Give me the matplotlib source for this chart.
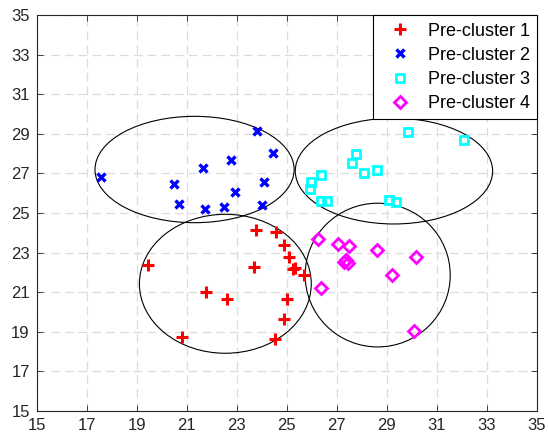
#!/usr/bin/env python3
"""Pre-cluster scatter with the four covering ellipses."""

import matplotlib

matplotlib.use("Agg")

import matplotlib.pyplot as plt
from matplotlib.patches import Ellipse

plt.rcParams["font.family"] = ["Liberation Sans", "DejaVu Sans"]

# pre-cluster 1 (red +)
c1_x = [19.44, 21.77, 22.62, 20.79, 23.77, 23.68, 24.57, 24.87, 25.08, 25.24, 25.33, 24.99, 24.88, 24.52, 25.67]
c1_y = [22.37, 20.99, 20.65, 18.74, 24.16, 22.27, 24.06, 23.37, 22.76, 22.17, 22.23, 20.65, 19.62, 18.64, 21.85]

# pre-cluster 2 (blue x)
c2_x = [17.57, 20.47, 20.67, 21.64, 21.72, 22.48, 22.77, 22.93, 23.79, 24.07, 24.01, 24.44]
c2_y = [26.80, 26.45, 25.45, 27.29, 25.22, 25.32, 27.68, 26.05, 29.15, 26.57, 25.42, 28.04]

# pre-cluster 3 (cyan squares)
c3_x = [29.85, 32.07, 27.76, 27.59, 28.09, 28.61, 26.36, 25.96, 25.94, 26.36, 26.60, 29.08, 29.35]
c3_y = [29.11, 28.68, 27.98, 27.55, 27.04, 27.16, 26.94, 26.58, 26.20, 25.61, 25.61, 25.67, 25.56]

# pre-cluster 4 (magenta diamonds)
c4_x = [26.23, 27.05, 27.50, 27.29, 27.46, 27.38, 28.61, 30.17, 29.20, 26.35, 30.08]
c4_y = [23.69, 23.41, 23.33, 22.52, 22.45, 22.60, 23.13, 22.76, 21.85, 21.22, 19.03]

# ellipses: centre x, centre y, width, height (data units)
ell_cx = [22.54, 21.31, 29.28, 28.63]
ell_cy = [21.42, 27.20, 27.12, 21.86]
ell_w = [6.87, 7.96, 7.89, 5.80]
ell_h = [7.03, 5.38, 5.35, 7.27]

labels = ["Pre-cluster 1", "Pre-cluster 2", "Pre-cluster 3", "Pre-cluster 4"]
ticks = list(range(15, 36, 2))


def main() -> None:
    fig = plt.figure(figsize=(5.48, 4.40), dpi=100)
    ax = fig.add_axes([0.067, 0.0666, 0.913, 0.8986])

    ax.plot(c1_x, c1_y, "+", color="red", markersize=8, markeredgewidth=2.2, label=labels[0])
    ax.plot(c2_x, c2_y, "x", color="blue", markersize=5.5, markeredgewidth=2.4, label=labels[1])
    ax.plot(c3_x, c3_y, "s", color="cyan", markerfacecolor="none", markersize=5.5,
            markeredgewidth=2.0, label=labels[2])
    ax.plot(c4_x, c4_y, "D", color="magenta", markerfacecolor="none", markersize=6.5,
            markeredgewidth=2.0, label=labels[3])

    for cx, cy, w, h in zip(ell_cx, ell_cy, ell_w, ell_h):
        ax.add_patch(Ellipse((cx, cy), w, h, fill=False, edgecolor="black", linewidth=0.8))

    ax.set_xlim(15, 35)
    ax.set_ylim(15, 35)
    ax.set_xticks(ticks)
    ax.set_yticks(ticks)
    ax.tick_params(direction="in", top=True, right=True, length=4, width=0.6,
                   labelsize=12, colors="#262626", pad=5)
    for spine in ax.spines.values():
        spine.set_color("#262626")
        spine.set_linewidth(0.8)
    ax.grid(True, color="#dcdcdc", linestyle=(0, (7, 4)), linewidth=0.9)
    ax.set_axisbelow(True)

    leg = ax.legend(loc="upper right", fontsize=13, fancybox=False, framealpha=1,
                    edgecolor="black", borderaxespad=0, borderpad=0.4,
                    handlelength=2.2, handletextpad=0.45, labelspacing=0.4)
    leg.get_frame().set_linewidth(0.8)

    fig.savefig("out.png", dpi=100)
    plt.close(fig)


if __name__ == "__main__":
    main()
